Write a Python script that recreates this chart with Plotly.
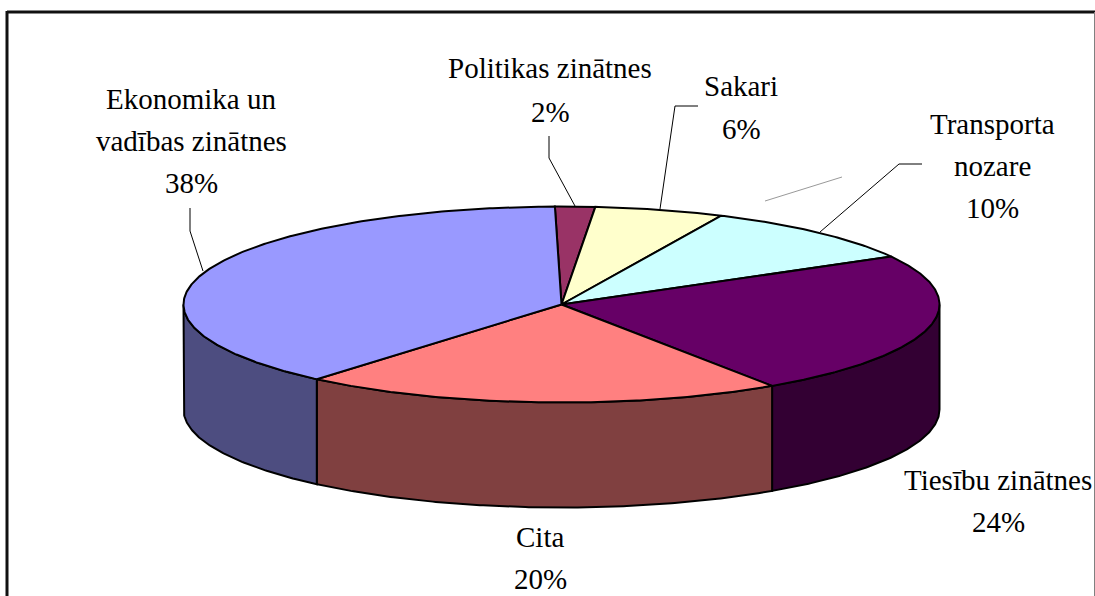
import numpy as np
import plotly.graph_objects as go

# Data (clockwise from the top of the pie)
categories = ["Politikas zinātnes", "Sakari", "Transporta nozare", "Tiesību zinātnes", "Cita", "Ekonomika un vadības zinātnes"]
values = [1.7, 5.5, 9.9, 23.65, 20.55, 38.4]
percent_labels = ["2%", "6%", "10%", "24%", "20%", "38%"]
label_lines = [["Politikas zinātnes"], ["Sakari"], ["Transporta", "nozare"], ["Tiesību zinātnes"], ["Cita"], ["Ekonomika un", "vadības zinātnes"]]

# Style and layout
top_colors = ["#993366", "#FFFFCC", "#CCFFFF", "#660066", "#FF8080", "#9999FF"]
side_colors = ["#4D1A33", "#808066", "#668080", "#330033", "#804040", "#4D4D80"]
CX, CY, RX, RY, DEPTH = 561.5, 304.5, 378, 98, 105
START = -1.0
FONT = dict(family="Liberation Serif", size=29, color="#000000")
label_anchor = [(550, 68, 44), (741, 86, 43), (992, 124, 42), (998, 480, 42), (540, 537, 42), (191, 99, 42)]
leaders = [
    ([549, 549, 575], [136, 158, 206]),
    ([698, 675, 660], [106, 106, 209]),
    ([922, 899, 820], [164, 164, 232]),
    ([190, 190, 203], [208, 231, 271]),
]

total = sum(values)
edges = START + np.concatenate([[0], np.cumsum(values)]) / total * 360


def rim(a, b, dy=0.0):
    t = np.radians(np.linspace(a, b, max(2, int(abs(b - a) * 2) + 2)))
    return CX + RX * np.sin(t), CY - RY * np.cos(t) + dy


fig = go.Figure()
OUT = dict(color="#000000", width=2)

# side walls: only the front half of the rim (90..270 degrees) shows
for i in range(len(values)):
    a, b = max(edges[i], 90), min(edges[i + 1], 270)
    if a >= b:
        continue
    x0, y0 = rim(a, b)
    x1, y1 = rim(b, a, DEPTH)
    fig.add_trace(go.Scatter(x=np.r_[x0, x1, x0[0]], y=np.r_[y0, y1, y0[0]], mode="lines",
                             fill="toself", fillcolor=side_colors[i], line=OUT, hoverinfo="skip"))

# top faces
for i in range(len(values)):
    x, y = rim(edges[i], edges[i + 1])
    fig.add_trace(go.Scatter(x=np.r_[CX, x, CX], y=np.r_[CY, y, CY], mode="lines", name=categories[i],
                             fill="toself", fillcolor=top_colors[i], line=OUT, hoverinfo="name"))

# leader lines
for lx, ly in leaders:
    fig.add_trace(go.Scatter(x=lx, y=ly, mode="lines", line=dict(color="#000000", width=1), hoverinfo="skip"))
fig.add_trace(go.Scatter(x=[765, 842], y=[201, 177], mode="lines", line=dict(color="#999999", width=1), hoverinfo="skip"))

# labels, one annotation per line for the wide line spacing
for lines, pct, (ax, ay, gap) in zip(label_lines, percent_labels, label_anchor):
    for k, s in enumerate(lines + [pct]):
        fig.add_annotation(x=ax, y=ay + k * gap, text=s, showarrow=False, font=FONT, xanchor="center", yanchor="middle")

# chart frame
fig.add_shape(type="line", x0=7, x1=1095, y0=12, y1=12, line=dict(color="#111111", width=3))
fig.add_shape(type="line", x0=7, x1=7, y0=11, y1=596, line=dict(color="#111111", width=3))
fig.add_shape(type="line", x0=1094.5, x1=1094.5, y0=12, y1=596, line=dict(color="#808080", width=1))

fig.update_layout(width=1095, height=596, margin=dict(l=0, r=0, t=0, b=0), showlegend=False,
                  paper_bgcolor="#FFFFFF", plot_bgcolor="#FFFFFF",
                  xaxis=dict(range=[0, 1095], visible=False, fixedrange=True),
                  yaxis=dict(range=[596, 0], visible=False, fixedrange=True))
fig.write_html("out.html", config=dict(displayModeBar=False),
               post_script="document.body.style.margin='0';document.body.style.overflow='hidden';")
